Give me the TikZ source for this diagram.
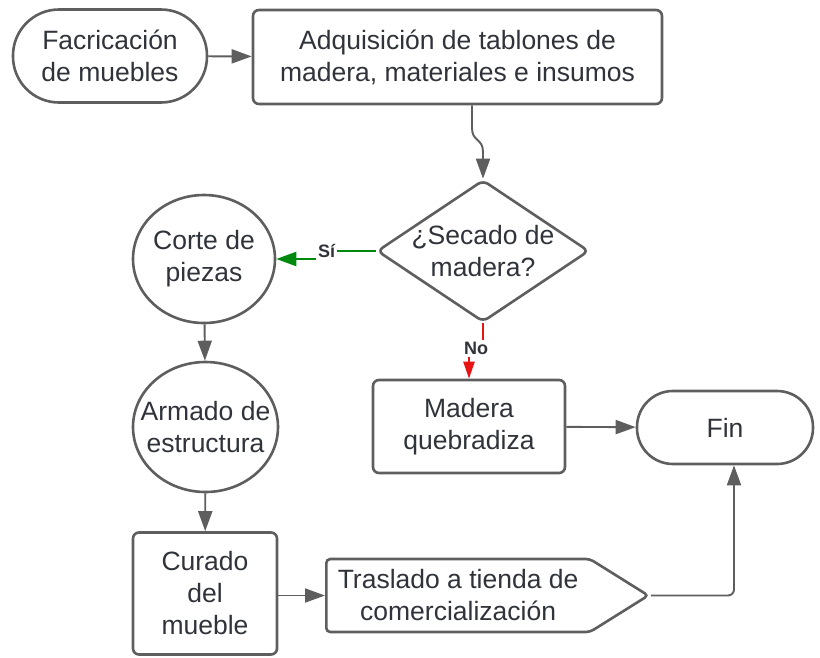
\documentclass[tikz,border=0pt]{standalone}
\usepackage{fontspec}
\setmainfont{Liberation Sans}
\usetikzlibrary{arrows.meta, positioning, shapes.geometric, shapes.symbols}
\definecolor{linegray}{HTML}{5E5E5E}
\definecolor{textgray}{HTML}{30333A}
\definecolor{yesgreen}{HTML}{00890F}
\definecolor{nored}{HTML}{E81414}

\begin{document}
\begin{tikzpicture}[x=1pt, y=-1pt,
    box/.style={rectangle, draw=linegray, line width=2.6pt, rounded corners=6pt,
                fill=white, text=textgray, align=center, inner sep=0pt,
                font=\fontsize{26.5}{32}\selectfont},
    terminal/.style={box, rounded corners=#1},
    bubble/.style={box, ellipse, inner sep=-14pt},
    decision/.style={box, diamond},
    output/.style={box, signal, signal to=east, signal pointer angle=64, rounded corners=4pt},
    flow/.style={-{Triangle[length=20pt, width=14pt]}, draw=linegray, line width=1.9pt},
    yesflow/.style={flow, draw=yesgreen, line width=2.4pt, -{Triangle[length=20pt, width=14pt, fill=yesgreen]}},
    noflow/.style={flow, draw=nored, line width=2.4pt, -{Triangle[length=17pt, width=11pt, fill=nored]}},
    answer/.style={fill=white, text=textgray, inner sep=2pt, font=\fontsize{18}{20}\selectfont\bfseries}
]
\useasboundingbox (0,0) rectangle (820,657);

% Shapes
\node[terminal=46pt, minimum width=194pt, minimum height=93pt] (start) at (110,56) {Facricación\\de muebles};
\node[box, minimum width=409pt, minimum height=94pt] (adq) at (457.5,57) {Adquisición de tablones de\\madera, materiales e insumos};
\node[decision, minimum width=212pt, minimum height=142pt,
      label={[text=textgray, align=center, font=\fontsize{26.5}{32}\selectfont]center:{¿Secado de\\madera?}}] (secado) at (483,251) {};
\node[bubble, minimum width=142pt, minimum height=128pt] (corte) at (204,259) {Corte de\\piezas};
\node[bubble, minimum width=145pt, minimum height=130pt] (armado) at (205.5,427) {Armado de\\estructura};
\node[box, minimum width=144pt, minimum height=122pt] (curado) at (205,593.5) {Curado\\del\\mueble};
\node[output, minimum width=322pt, minimum height=73pt, anchor=west] (traslado) at (325,595.5) {Traslado a tienda de\\comercialización};
\node[box, minimum width=192pt, minimum height=93pt] (madera) at (469,426.5) {Madera\\quebradiza};
\node[terminal=36pt, minimum width=176pt, minimum height=73pt] (fin) at (725,427.5) {Fin};

% Connectors
\coordinate (bendtop) at (472,128);
\coordinate (bendlow) at (483,152);
\draw[flow] (start) -- (adq);
\draw[flow] (adq.south -| bendtop) -- (bendtop) .. controls (472,142) and (483,138) .. (bendlow) -- (secado.north);
\draw[yesflow] (secado.west) -- ++(-49,0) node[answer] {Sí} |- (corte.east);
\draw[noflow] (secado.south) -- ++(0,25) node[answer, xshift=-7pt] {No} -| (madera.north);
\draw[flow] (corte) -- (armado);
\draw[flow] (armado) -- (curado);
\draw[flow] (curado.east |- traslado.west) -- (traslado.west);
\draw[flow] (madera) -- (fin);
\draw[flow, rounded corners=6pt] (traslado.east) -| ([xshift=9pt]fin.south);

\end{tikzpicture}
\end{document}
